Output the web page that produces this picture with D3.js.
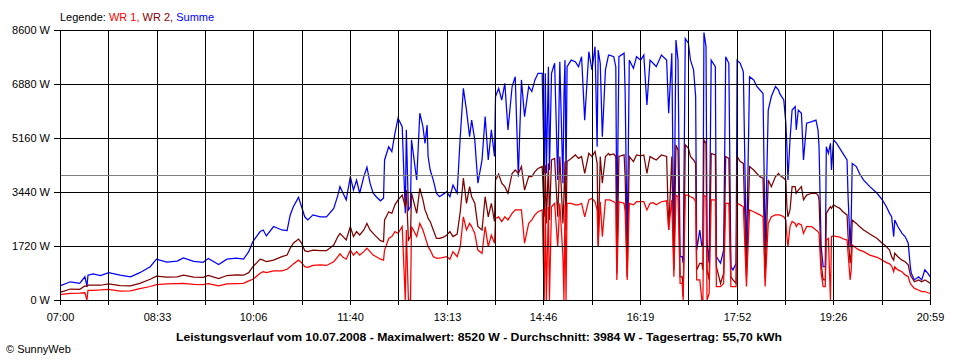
<!DOCTYPE html>
<html><head><meta charset="utf-8">
<script src="https://cdn.jsdelivr.net/npm/d3@7"></script>
<style>
body{margin:0;background:#fff}
svg{display:block}
text{font-family:"Liberation Sans",Arial,sans-serif;font-size:11px}
</style>
</head><body>
<svg id="c" width="960" height="360"></svg>
<script>
// ---- DATA ----
const legendLabels = ["WR 1", "WR 2", "Summe"];
const xTickLabels = ["07:00","08:33","10:06","11:40","13:13","14:46","16:19","17:52","19:26","20:59"];
const yTickValues = [0, 1720, 3440, 5160, 6880, 8600];
const durchschnitt = 3984;
const titleText = "Leistungsverlauf vom 10.07.2008 - Maximalwert: 8520 W - Durchschnitt: 3984 W - Tagesertrag: 55,70 kWh";

const times = [
"07:00","07:10","07:19","07:24","07:26","07:27","07:32","07:39","07:47","07:58",
"08:08","08:17","08:27","08:33","08:43","08:53","08:59","09:09","09:18","09:23",
"09:33","09:41","09:50","09:57","10:02","10:06","10:13","10:16","10:19","10:26",
"10:34","10:39","10:42","10:45","10:50","10:53","10:56","10:59","11:04","11:11",
"11:17","11:24","11:28","11:30","11:33","11:36","11:40","11:43","11:46","11:49",
"11:53","11:56","11:59","12:02","12:05","12:09","12:12","12:13","12:17","12:20",
"12:23","12:26","12:30","12:33","12:34","12:36","12:38","12:39","12:44","12:47",
"12:50","12:52","12:54","12:55","12:57","13:00","13:03","13:06","13:10","13:13",
"13:16","13:19","13:23","13:26","13:29","13:32","13:35","13:37","13:40","13:43",
"13:47","13:50","13:53","13:56","13:59","14:00","14:03","14:06","14:09","14:12",
"14:16","14:19","14:22","14:25","14:28","14:32","14:35","14:38","14:41","14:45",
"14:47","14:48","14:49","14:51","14:52","14:54","14:57","15:00","15:02","15:05",
"15:06","15:07","15:08","15:09","15:13","15:17","15:20","15:23","15:26","15:30",
"15:33","15:36","15:38","15:39","15:41","15:43","15:46","15:49","15:50","15:54",
"15:56","15:57","15:59","16:04","16:05","16:07","16:09","16:13","16:16","16:20",
"16:23","16:26","16:29","16:32","16:35","16:40","16:45","16:47","16:50","16:52",
"16:54","16:56","16:58","17:00","17:01","17:03","17:06","17:08","17:11","17:13",
"17:14","17:17","17:19","17:20","17:21","17:23","17:24","17:26","17:28","17:32",
"17:33","17:37","17:40","17:42","17:45","17:47","17:49","17:52","17:53","17:56",
"17:59","18:02","18:05","18:09","18:12","18:15","18:18","18:20","18:23","18:26",
"18:30","18:33","18:34","18:38","18:40","18:41","18:42","18:44","18:46","18:49",
"18:50","18:52","18:55","18:57","19:00","19:05","19:09","19:11","19:12","19:14",
"19:16","19:18","19:19","19:21","19:23","19:24","19:26","19:29","19:32","19:35",
"19:39","19:40","19:42","19:43","19:44","19:48","19:51","19:55","20:01","20:08",
"20:13","20:17","20:20","20:22","20:24","20:25","20:28","20:32","20:35","20:38",
"20:40","20:41","20:44","20:48","20:51","20:54","20:57","20:59"
];

const wr1 = [
170,210,220,230,0,310,310,320,340,280,
290,360,430,490,510,520,530,500,490,520,
450,510,520,530,610,660,850,900,870,930,
930,980,1060,1150,1270,1190,1060,1040,1100,1120,
1100,1220,1380,1470,1360,1300,1590,1430,1540,1430,
1540,1650,1540,1430,1380,1300,1270,1590,1960,2020,
2180,2120,2340,0,2230,0,0,2340,2020,2440,
2230,2020,1810,1700,1590,1380,1330,1330,1360,1380,
1300,1540,1380,1700,2650,2230,2440,2340,2120,1590,
1490,2340,1700,2070,1810,2600,2650,2500,2650,2550,
2760,2870,2870,2870,1810,2440,2550,2710,2810,2870,
0,2920,0,2970,0,2970,3080,1700,3080,1380,
0,3030,0,3080,3080,3030,3030,3080,2650,3190,
3240,3130,2870,1750,3130,2020,3190,3190,3190,3130,
3080,640,3130,3080,2810,640,3080,3030,3130,3130,
3130,2870,3080,3100,3030,3130,3160,2230,3190,740,
3340,3290,530,530,0,3340,3340,3290,3240,3130,
640,640,0,0,3340,3290,0,210,3190,3190,
430,430,530,3080,3080,430,430,430,3080,3030,
2970,430,2870,2810,2760,2710,2650,430,2440,2650,
2710,2710,2710,2650,2550,2020,1700,2340,2500,2440,
2340,2440,2390,2120,2340,2340,2230,2180,2120,850,
430,430,1910,1960,0,2020,2040,2020,2000,1950,
1910,1490,640,960,1750,1650,1590,1540,1430,1360,
1270,1190,1150,1080,900,1060,960,900,800,740,
530,480,370,320,270,270,230,210
];

const wr2 = [
240,350,340,450,430,470,470,470,510,460,
450,530,660,760,730,740,790,730,720,780,
680,780,800,790,870,1060,1300,1270,1220,1270,
1380,1430,1650,1810,1940,1810,1570,1540,1590,1570,
1570,1750,2020,2120,2020,1910,2340,2020,2180,2070,
2230,2440,2230,2120,2020,1890,1860,2550,2810,2760,
3030,3190,3340,2970,3500,1910,2020,3400,2760,3560,
3190,2870,2710,2600,2500,2230,1960,1960,2000,2070,
2180,2020,2100,2810,3880,3080,3610,3290,3080,2340,
2230,3290,2650,3080,2500,3820,4010,3720,3610,3400,
4030,4140,4030,4250,3500,3930,3930,4090,4190,4250,
2650,4300,2440,4350,2550,4460,4510,2650,4570,2440,
3290,4410,2230,4410,4510,4620,4510,4570,4030,4670,
4570,4730,4350,1700,4570,3720,4570,4670,4620,4650,
4570,850,4570,4620,3930,740,4570,4410,4620,4590,
4620,4030,4570,4510,4460,4620,4570,2230,4570,960,
4940,4780,740,740,110,4940,4830,4570,4460,4350,
960,1170,1170,960,5100,4990,960,640,4670,4620,
1060,530,850,4570,4510,740,640,530,4570,4410,
4350,740,4250,4140,4030,3930,3880,690,3820,3610,
3930,4030,3980,3880,3820,2970,2650,2870,3610,3610,
3400,3500,3610,3190,3340,3400,3400,3340,3190,1170,
640,640,2760,2870,2970,2920,3030,2970,2920,2810,
2710,2020,1170,1490,2550,2440,2340,2230,2100,1960,
1810,1700,1590,1380,1270,1490,1380,1270,1220,1120,
800,740,580,640,580,640,580,530
];

const summe = [
450,580,530,740,450,790,830,780,870,790,
740,870,1060,1300,1210,1240,1340,1230,1200,1320,
1130,1300,1330,1300,1540,1860,2180,2230,2040,2340,
2230,2210,2710,2970,3270,2970,2650,2550,2710,2650,
2650,2920,3340,3610,3400,3190,3930,3500,3820,3400,
3930,4230,3720,3400,3290,3160,3240,4460,4880,4730,
5310,5790,5520,2760,5420,2870,2970,5100,3820,5950,
5520,4990,5570,4570,4140,3820,3400,3290,3380,3450,
3290,3660,3400,5200,6740,6050,5200,5730,5100,3720,
4460,5840,4460,5420,4570,6480,6740,6370,6900,5420,
6800,7110,3930,7010,5840,6800,6640,7010,7220,7220,
4030,7220,4030,7430,4140,7220,7540,3820,7590,3720,
6480,7640,3820,7430,7640,7590,7430,7750,5730,7910,
7330,8070,4880,7960,7540,5200,7330,7800,7800,7750,
7430,2120,7750,7860,6640,1590,7640,7380,7750,7640,
7800,6210,7640,7540,7430,7800,7640,5950,7860,1590,
8280,7640,1380,1380,1170,8330,8180,7640,7330,6480,
1590,2230,1700,1810,8520,8070,1810,1170,7640,7430,
1380,1170,1590,7750,7540,1060,960,1170,7640,7540,
7270,1270,7110,7010,6800,6690,6580,1590,6050,6480,
6800,6690,6580,6370,5630,4880,3820,5100,6050,6160,
5420,6050,5950,4460,5630,5680,5730,5420,4880,1700,
1060,1060,4880,4670,4990,4140,5100,4990,4830,4670,
4460,3290,1700,2550,4350,4250,4030,3820,3610,3400,
3190,2970,2760,2650,2020,2550,2340,2120,2020,1810,
1060,850,640,740,640,960,850,740
];

// ---- CHART ----
const svg = d3.select("#c");
svg.append("rect").attr("width", 960).attr("height", 360).attr("fill", "#fff");

const parse = d3.timeParse("%H:%M");
const t0 = parse(xTickLabels[0]), t1 = parse(xTickLabels[xTickLabels.length - 1]);
const L = 60, R = 930, T = 30, B = 300;
const x = d3.scaleTime().domain([t0, t1]).range([L, R]);
const y = d3.scaleLinear().domain([0, yTickValues[yTickValues.length - 1]]).range([B, T]);
const xr = x.copy().interpolate(d3.interpolateRound);
const yr = y.copy().interpolate(d3.interpolateRound);

const nDiv = (xTickLabels.length - 1) * 2;
const gridTimes = d3.range(nDiv + 1).map(i => new Date(+t0 + i * (t1 - t0) / nDiv));

const parsedTimes = times.map(parse);
const seriesDefs = [
  {name: legendLabels[2], values: summe, color: "#0000ff"},
  {name: legendLabels[1], values: wr2, color: "#800000"},
  {name: legendLabels[0], values: wr1, color: "#ff0000"}
];
const line = d3.line().x(d => x(d.t)).y(d => y(d.v));
const plot = svg.append("g");
seriesDefs.forEach(s => {
  const pts = parsedTimes.map((t, i) => ({t, v: s.values[i]}));
  plot.append("path").datum(pts)
    .attr("d", line)
    .attr("fill", "none")
    .attr("stroke", s.color)
    .attr("stroke-width", 1.25)
    .attr("stroke-linejoin", "miter");
});

// grid
const grid = svg.append("g").attr("shape-rendering", "crispEdges").attr("stroke", "#000");
grid.selectAll("line.v").data(gridTimes).join("line")
  .attr("x1", d => xr(d) + 0.5).attr("x2", d => xr(d) + 0.5)
  .attr("y1", T).attr("y2", B + 1);
grid.selectAll("line.h").data(yTickValues).enter().append("line")
  .attr("x1", L).attr("x2", R + 1)
  .attr("y1", d => yr(d) + 0.5).attr("y2", d => yr(d) + 0.5);

// average line
svg.append("line").attr("shape-rendering", "crispEdges")
  .attr("x1", L + 1).attr("x2", R)
  .attr("y1", yr(durchschnitt) + 0.5).attr("y2", yr(durchschnitt) + 0.5)
  .attr("stroke", "#808080");

// axes
const xAxis = d3.axisBottom(xr).tickValues(gridTimes).tickSize(5).tickPadding(8)
  .tickFormat((d, i) => i % 2 ? "" : xTickLabels[i / 2]);
const gx = svg.append("g").attr("transform", `translate(0,${B})`).call(xAxis);
const yAxis = d3.axisLeft(yr).tickValues(yTickValues).tickSize(6).tickPadding(4)
  .tickFormat(d => d + " W");
const gy = svg.append("g").attr("transform", `translate(${L},0)`).call(yAxis);
[gx, gy].forEach(g => {
  g.select(".domain").remove();
  g.selectAll("line").attr("stroke", "#000").attr("shape-rendering", "crispEdges");
  g.selectAll("text").attr("fill", "#000").style("font-family", '"Liberation Sans",Arial,sans-serif').style("font-size", "11px");
});

// legend
const leg = svg.append("text").attr("x", 60).attr("y", 21);
leg.append("tspan").attr("fill", "#000").text("Legende: ");
leg.append("tspan").attr("fill", "#ff0000").text(legendLabels[0] + ", ");
leg.append("tspan").attr("fill", "#800000").text(legendLabels[1] + ", ");
leg.append("tspan").attr("fill", "#0000ff").text(legendLabels[2]);

// title
svg.append("text").attr("x", 176).attr("y", 341)
  .attr("font-weight", "bold").attr("fill", "#000")
  .attr("textLength", 606).attr("lengthAdjust", "spacingAndGlyphs")
  .text(titleText);

svg.append("text").attr("x", 6).attr("y", 353).attr("fill", "#000").text("\u00A9 SunnyWeb");
</script>
</body></html>
